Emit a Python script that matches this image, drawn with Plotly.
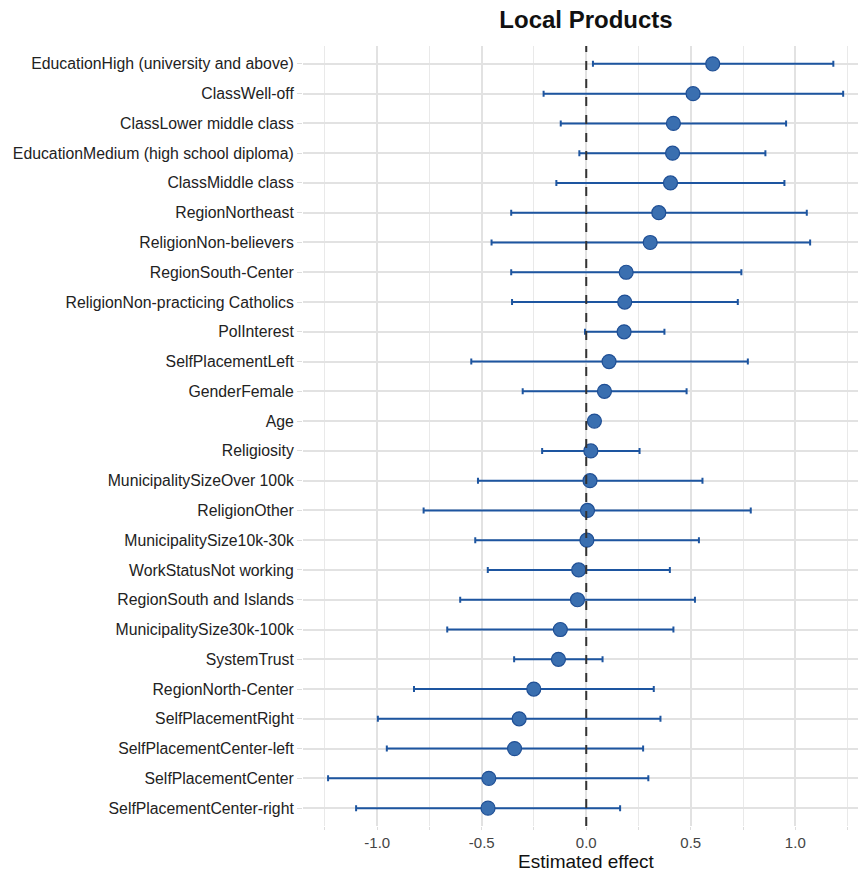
import plotly.graph_objects as go

title = "Local Products"
x_title = "Estimated effect"

terms = [
    "EducationHigh (university and above)",
    "ClassWell-off",
    "ClassLower middle class",
    "EducationMedium (high school diploma)",
    "ClassMiddle class",
    "RegionNortheast",
    "ReligionNon-believers",
    "RegionSouth-Center",
    "ReligionNon-practicing Catholics",
    "PolInterest",
    "SelfPlacementLeft",
    "GenderFemale",
    "Age",
    "Religiosity",
    "MunicipalitySizeOver 100k",
    "ReligionOther",
    "MunicipalitySize10k-30k",
    "WorkStatusNot working",
    "RegionSouth and Islands",
    "MunicipalitySize30k-100k",
    "SystemTrust",
    "RegionNorth-Center",
    "SelfPlacementRight",
    "SelfPlacementCenter-left",
    "SelfPlacementCenter",
    "SelfPlacementCenter-right",
]

estimate = [0.605, 0.511, 0.417, 0.413, 0.403, 0.347, 0.306, 0.191, 0.184, 0.181,
            0.109, 0.087, 0.039, 0.022, 0.018, 0.006, 0.003, -0.036, -0.042, -0.124,
            -0.133, -0.251, -0.321, -0.343, -0.466, -0.470]
conf_low = [0.032, -0.204, -0.122, -0.033, -0.143, -0.359, -0.453, -0.359, -0.355, -0.006,
            -0.550, -0.304, 0.030, -0.211, -0.518, -0.778, -0.531, -0.471, -0.603, -0.665,
            -0.345, -0.824, -0.997, -0.954, -1.235, -1.101]
conf_high = [1.182, 1.229, 0.956, 0.857, 0.948, 1.055, 1.071, 0.742, 0.725, 0.374,
             0.773, 0.480, 0.048, 0.255, 0.556, 0.787, 0.539, 0.400, 0.520, 0.417,
             0.078, 0.323, 0.355, 0.272, 0.297, 0.162]

x_tickvals = [-1.0, -0.5, 0.0, 0.5, 1.0]
x_ticktext = ["-1.0", "-0.5", "0.0", "0.5", "1.0"]

err_plus = [h - e for h, e in zip(conf_high, estimate)]
err_minus = [e - l for e, l in zip(estimate, conf_low)]

W, H = 861, 872
ML, MR, MT, MB = 303, 3, 46, 46
plot_h = H - MT - MB

fig = go.Figure()
fig.add_trace(go.Scatter(
    x=estimate, y=terms, mode="markers",
    marker=dict(size=14, color="#3a6fb0", line=dict(color="#1f4f95", width=1.2)),
    error_x=dict(type="data", symmetric=False, array=err_plus, arrayminus=err_minus,
                 color="#1d55a0", thickness=2, width=3),
    showlegend=False,
))

fig.add_shape(type="line", x0=0, x1=0, xref="x", yref="paper", y0=0, y1=1,
              line=dict(color="#333333", width=2, dash="dash"), layer="above")

fig.add_annotation(text=x_title, xref="x", yref="paper", x=0, y=-(861 - (H - MB)) / plot_h,
                   xanchor="center", yanchor="middle", showarrow=False,
                   font=dict(size=19, color="#111111"))

fig.update_layout(
    width=W, height=H,
    margin=dict(l=ML, r=MR, t=MT, b=MB),
    paper_bgcolor="white", plot_bgcolor="white",
    font=dict(family="Liberation Sans, Arial, sans-serif", color="#333333"),
    title=dict(text="<b>" + title + "</b>", x=586 / W, xanchor="center",
               y=1 - 20 / H, yanchor="middle",
               font=dict(size=24, color="#111111")),
    xaxis=dict(
        range=[-1.355, 1.30],
        tickvals=x_tickvals, ticktext=x_ticktext,
        showgrid=True, gridcolor="#e2e2e2", gridwidth=1.8,
        minor=dict(dtick=0.25, tick0=0, showgrid=True, gridcolor="#e9e9e9", gridwidth=1.3,
                   ticks="outside", ticklen=3, tickcolor="#dddddd"),
        ticks="outside", ticklen=3, tickcolor="#dddddd",
        zeroline=False, showline=False,
        tickfont=dict(size=15, color="#444444"),
    ),
    yaxis=dict(
        categoryorder="array", categoryarray=terms,
        range=[len(terms) - 0.4, -0.6],
        showgrid=True, gridcolor="#e2e2e2", gridwidth=1.8,
        ticks="outside", ticklen=5, tickcolor="#dddddd",
        zeroline=False, showline=False,
        tickfont=dict(size=15.8, color="#222222"),
    ),
)

fig.write_html("out.html")
